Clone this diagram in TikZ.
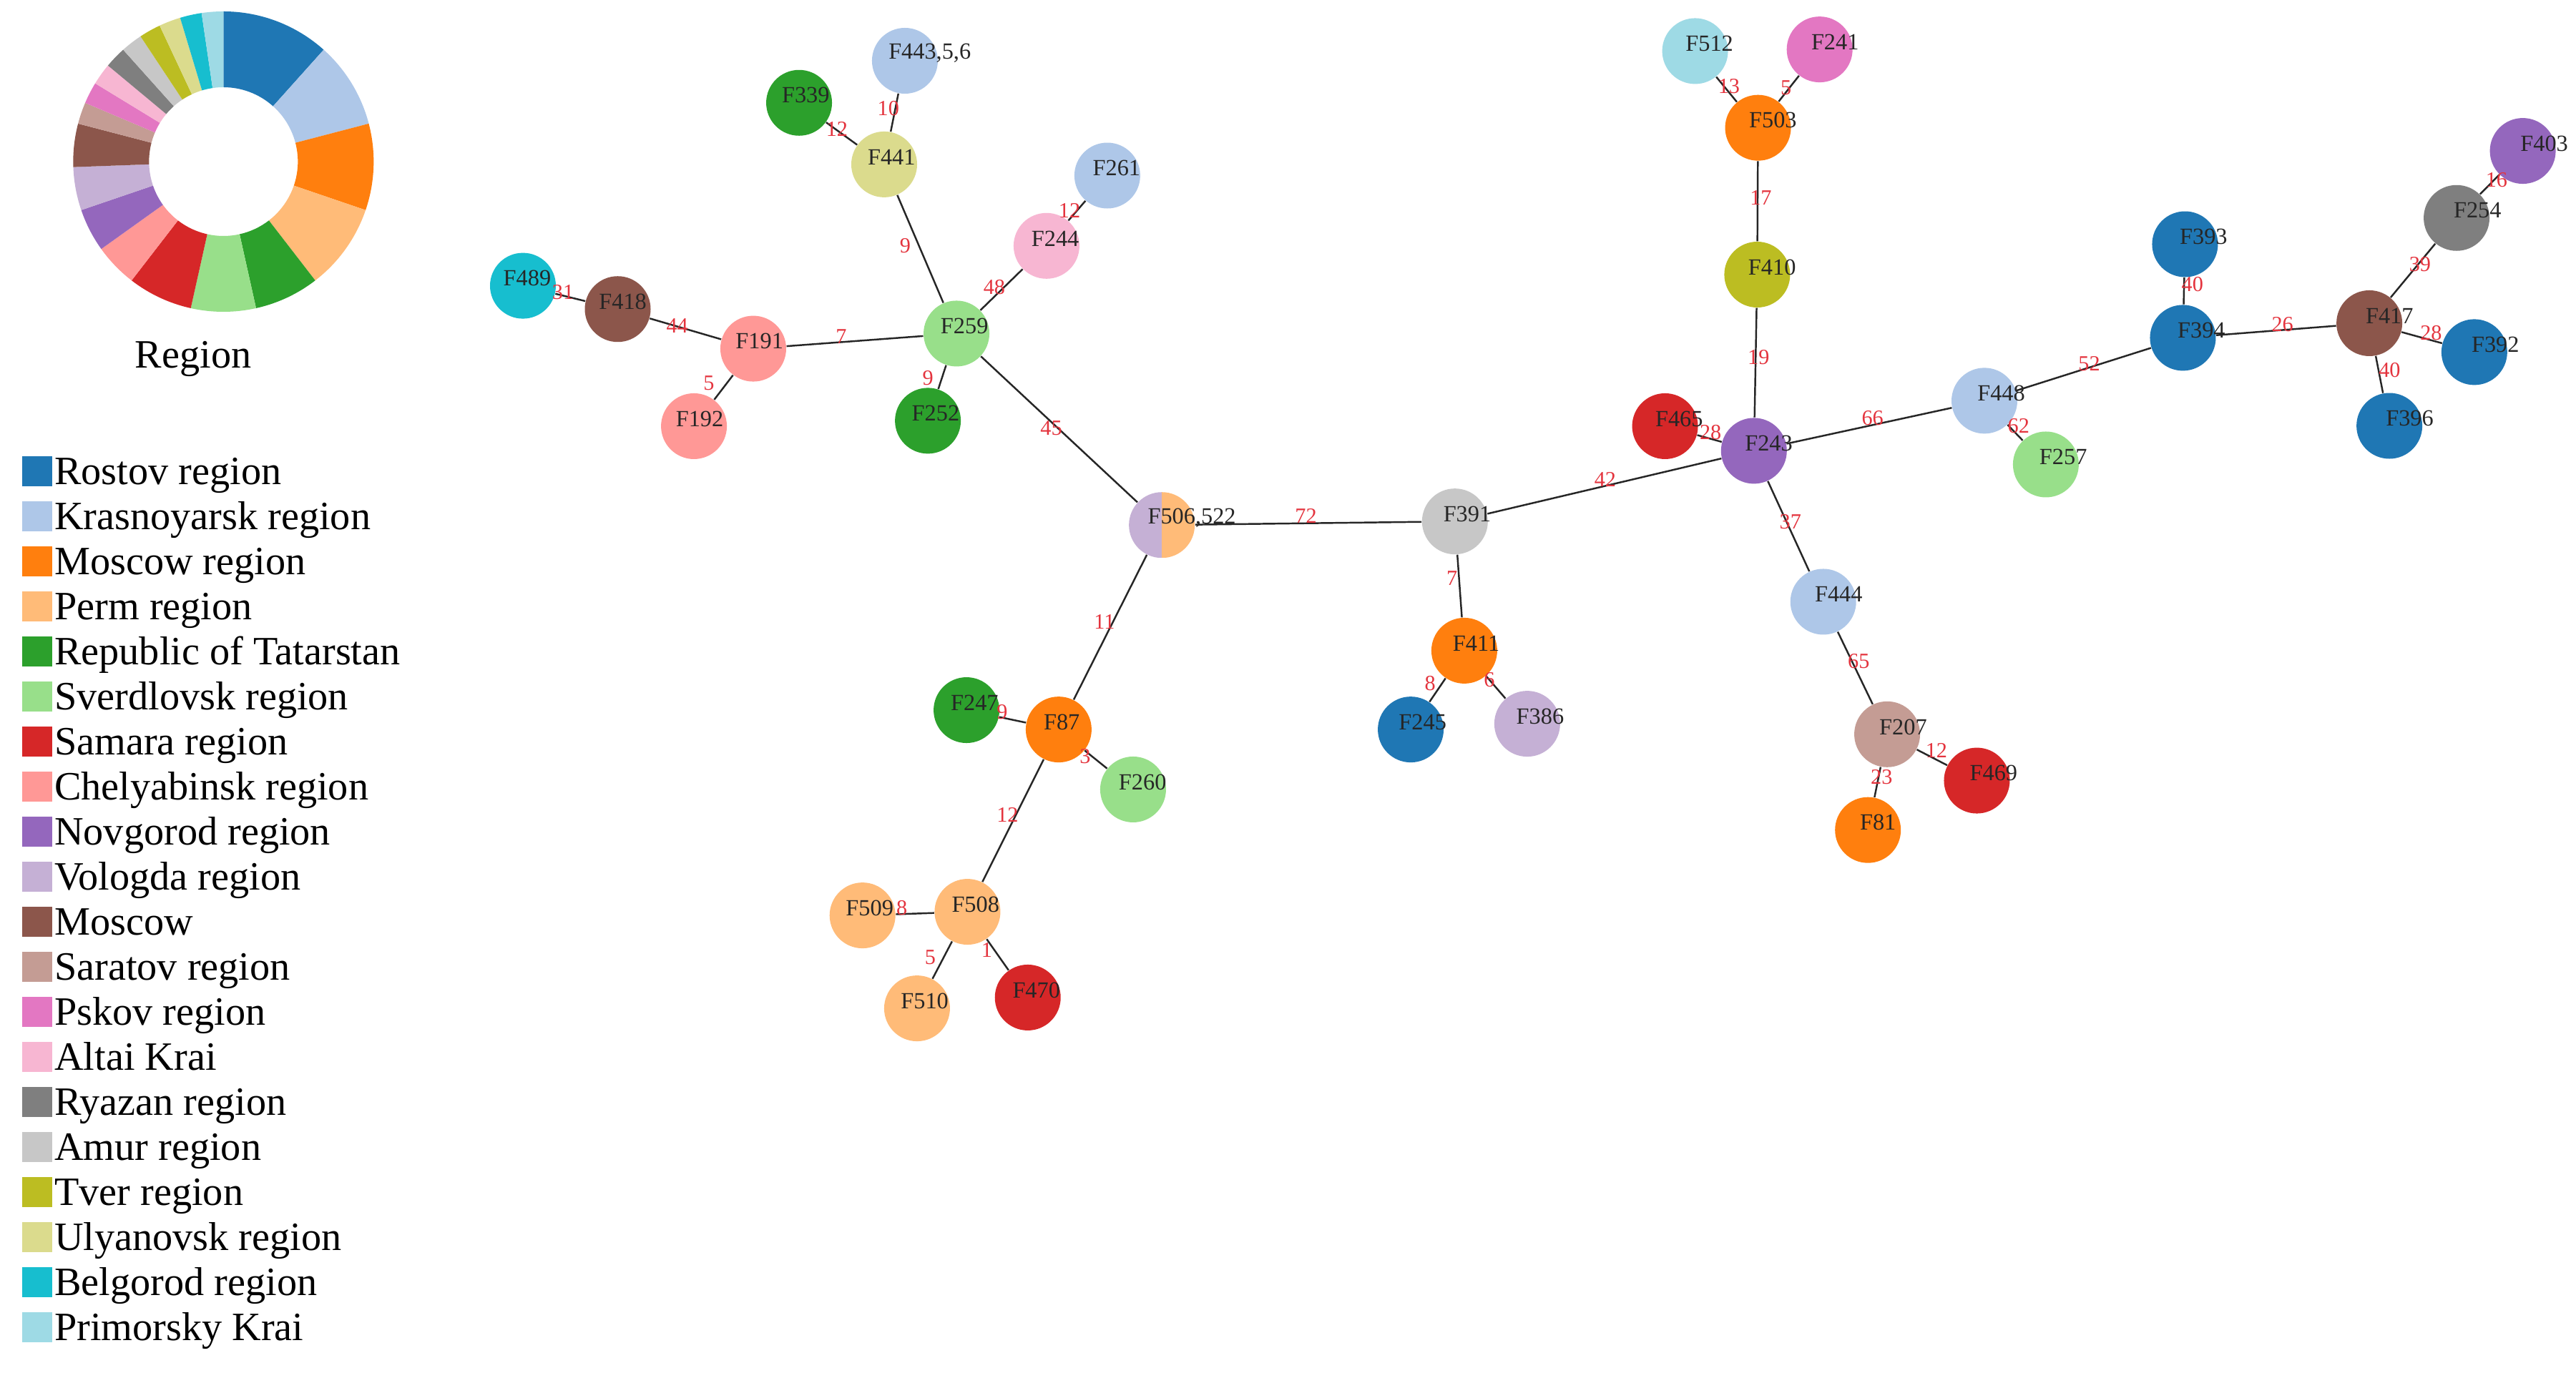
\documentclass[tikz,border=0pt]{standalone}
\usepackage{fontspec}
\setmainfont{Liberation Serif}
\definecolor{rostov}{HTML}{1F77B4}
\definecolor{kras}{HTML}{AEC7E8}
\definecolor{mosreg}{HTML}{FF7F0E}
\definecolor{perm}{HTML}{FFBB78}
\definecolor{tatar}{HTML}{2CA02C}
\definecolor{sverd}{HTML}{98DF8A}
\definecolor{samara}{HTML}{D62728}
\definecolor{chely}{HTML}{FF9896}
\definecolor{novg}{HTML}{9467BD}
\definecolor{volog}{HTML}{C5B0D5}
\definecolor{moscow}{HTML}{8C564B}
\definecolor{saratov}{HTML}{C49C94}
\definecolor{pskov}{HTML}{E377C2}
\definecolor{altai}{HTML}{F7B6D2}
\definecolor{ryazan}{HTML}{7F7F7F}
\definecolor{amur}{HTML}{C7C7C7}
\definecolor{tver}{HTML}{BCBD22}
\definecolor{ulyan}{HTML}{DBDB8D}
\definecolor{belg}{HTML}{17BECF}
\definecolor{prim}{HTML}{9EDAE5}
\definecolor{labred}{RGB}{228,52,62}
\pgfdeclarelayer{fg}
\pgfsetlayers{main,fg}
\tikzset{
  nd/.style={circle, inner sep=0pt, minimum size=0.92cm, draw=none},
  ntext/.style={anchor=west, inner sep=0pt, font=\fontsize{9.2}{10}\selectfont, text=black!85},
  edge/.style={draw=black!85, line width=0.7pt},
  elab/.style={inner sep=0pt, font=\fontsize{8.6}{9}\selectfont, text=labred},
  legsq/.style={inner sep=0pt, minimum width=0.42cm, minimum height=0.42cm, draw=none},
  legtext/.style={anchor=base west, inner sep=0pt, font=\fontsize{16}{19}\selectfont}
}
\newcommand\fnode[5]{%
  \node[nd, fill=#2] (#1) at (#3,#4) {};
  \begin{pgfonlayer}{fg}\node[ntext] (#1t) at ({#3-14.93+0.0086*#3},{#4-4.5}) {#5};\end{pgfonlayer}}
\newcommand\edg[5]{%
  \draw[edge] (#1) -- (#2);
  \begin{pgfonlayer}{fg}\node[elab] (l#1#2) at (#3,#4) {#5};\end{pgfonlayer}}
\begin{document}
\begin{tikzpicture}[x=0.022966cm, y=-0.022966cm]
\useasboundingbox (0,0) rectangle (1568,836);
\fill[white] (0,0) rectangle (1568,836);

% donut
\begin{scope}[shift={(136,98.4)}, x=1cm, y=1cm]
  \foreach \a/\b/\c in {0/5/rostov, 5/9/kras, 9/13/mosreg, 13/17/perm, 17/20/tatar, 20/23/sverd, 23/26/samara, 26/28/chely, 28/30/novg, 30/32/volog, 32/34/moscow, 34/35/saratov, 35/36/pskov, 36/37/altai, 37/38/ryazan, 38/39/amur, 39/40/tver, 40/41/ulyan, 41/42/belg, 42/43/prim}{
    \pgfmathsetmacro\sa{90-\a*360/43}
    \pgfmathsetmacro\ea{90-\b*360/43}
    \fill[\c] (\sa:2.1) arc[start angle=\sa, end angle=\ea, radius=2.1] -- (\ea:1.04) arc[start angle=\ea, end angle=\sa, radius=1.04] -- cycle;
  }
\end{scope}
\node[anchor=base, inner sep=0pt, font=\fontsize{16}{19}\selectfont] (regtitle) at (117.6,224) {Region};

% legend
\foreach \i/\c/\t in {0/rostov/Rostov region, 1/kras/Krasnoyarsk region, 2/mosreg/Moscow region, 3/perm/Perm region, 4/tatar/Republic of Tatarstan, 5/sverd/Sverdlovsk region, 6/samara/Samara region, 7/chely/Chelyabinsk region, 8/novg/Novgorod region, 9/volog/Vologda region, 10/moscow/Moscow, 11/saratov/Saratov region, 12/pskov/Pskov region, 13/altai/Altai Krai, 14/ryazan/Ryazan region, 15/amur/Amur region, 16/tver/Tver region, 17/ulyan/Ulyanovsk region, 18/belg/Belgorod region, 19/prim/Primorsky Krai}{
  \node[legsq, fill=\c] (leg\i) at (22.65,{286.9+27.43*\i}) {};
  \node[legtext] (legt\i) at (32.9,{286.9+27.43*\i+8.3}) {\t};
}

% nodes
\fnode{F443}{kras}{550.8}{37.0}{F443,5,6}
\fnode{F339}{tatar}{486.4}{62.6}{F339}
\fnode{F441}{ulyan}{538.2}{100.1}{F441}
\fnode{F261}{kras}{674}{106.9}{F261}
\fnode{F244}{altai}{637}{149.7}{F244}
\fnode{F489}{belg}{318.3}{174}{F489}
\fnode{F418}{moscow}{376}{188.2}{F418}
\fnode{F191}{chely}{458.5}{212.3}{F191}
\fnode{F259}{sverd}{582.2}{203.1}{F259}
\fnode{F192}{chely}{422.4}{259.5}{F192}
\fnode{F252}{tatar}{564.8}{256.2}{F252}
\node[nd, path picture={
    \fill[volog] (path picture bounding box.north west) rectangle (path picture bounding box.south);
    \fill[perm] (path picture bounding box.north) rectangle (path picture bounding box.south east);}] (F506) at (707.2,319.7) {};
\begin{pgfonlayer}{fg}\node[ntext] (F506t) at ({707.2-14.93+0.0086*707.2},{319.7-4.5}) {F506,522};\end{pgfonlayer}
\fnode{F391}{amur}{885.6}{317.5}{F391}
\fnode{F411}{mosreg}{891.3}{396.2}{F411}
\fnode{F245}{rostov}{858.7}{444.2}{F245}
\fnode{F386}{volog}{929.6}{440.7}{F386}
\fnode{F247}{tatar}{588.3}{432.4}{F247}
\fnode{F87}{mosreg}{644.4}{444.2}{F87}
\fnode{F260}{sverd}{689.7}{480.7}{F260}
\fnode{F508}{perm}{588.9}{555.2}{F508}
\fnode{F509}{perm}{525}{557.4}{F509}
\fnode{F510}{perm}{558.2}{614}{F510}
\fnode{F470}{samara}{625.6}{607.4}{F470}
\fnode{F512}{prim}{1031.8}{31.1}{F512}
\fnode{F241}{pskov}{1107.6}{30.1}{F241}
\fnode{F503}{mosreg}{1070.1}{77.8}{F503}
\fnode{F410}{tver}{1069.6}{167.2}{F410}
\fnode{F465}{samara}{1013.5}{259.5}{F465}
\fnode{F243}{novg}{1067.6}{274.5}{F243}
\fnode{F448}{kras}{1207.9}{244}{F448}
\fnode{F257}{sverd}{1245.3}{282.8}{F257}
\fnode{F393}{rostov}{1330}{148.7}{F393}
\fnode{F394}{rostov}{1328.7}{205.7}{F394}
\fnode{F403}{novg}{1535.6}{91.9}{F403}
\fnode{F254}{ryazan}{1495.3}{132.7}{F254}
\fnode{F417}{moscow}{1442.2}{196.8}{F417}
\fnode{F392}{rostov}{1506.1}{214.4}{F392}
\fnode{F396}{rostov}{1454.4}{259.3}{F396}
\fnode{F444}{kras}{1109.8}{366.4}{F444}
\fnode{F207}{saratov}{1148.7}{447.1}{F207}
\fnode{F469}{samara}{1203.3}{475.3}{F469}
\fnode{F81}{mosreg}{1137}{505.4}{F81}

% edges
\edg{F441}{F443}{540.7}{66.1}{10}
\edg{F441}{F339}{509.4}{78.7}{12}
\edg{F441}{F259}{551}{149.7}{9}
\edg{F244}{F261}{651}{128.3}{12}
\edg{F259}{F244}{605.2}{175}{48}
\edg{F418}{F489}{342.7}{177.9}{31}
\edg{F191}{F418}{412.2}{198.3}{44}
\edg{F191}{F259}{512}{205}{7}
\edg{F191}{F192}{431.5}{233.3}{5}
\edg{F259}{F252}{564.8}{230.3}{9}
\edg{F259}{F506}{639.9}{260.5}{45}
\edg{F506}{F391}{794.9}{314.1}{72}
\edg{F506}{F87}{672.3}{378.6}{11}
\edg{F87}{F247}{610}{433.6}{9}
\edg{F87}{F260}{660.5}{460.7}{3}
\edg{F87}{F508}{613.3}{496.3}{12}
\edg{F508}{F509}{548.9}{553}{8}
\edg{F508}{F510}{566.3}{583}{5}
\edg{F508}{F470}{600.6}{578.5}{1}
\edg{F391}{F411}{883.8}{351.9}{7}
\edg{F411}{F245}{870.5}{416.3}{8}
\edg{F411}{F386}{906.5}{414.1}{6}
\edg{F391}{F243}{977.1}{291.9}{42}
\edg{F243}{F410}{1070.4}{217.7}{19}
\edg{F410}{F503}{1071.8}{120.5}{17}
\edg{F503}{F512}{1052.4}{52.5}{13}
\edg{F503}{F241}{1087.1}{53.5}{5}
\edg{F243}{F465}{1041.2}{263.4}{28}
\edg{F243}{F448}{1139.8}{254.6}{66}
\edg{F448}{F257}{1228.7}{259.5}{62}
\edg{F448}{F394}{1271.7}{221.6}{52}
\edg{F394}{F393}{1334.5}{173.3}{40}
\edg{F394}{F417}{1389.3}{197.7}{26}
\edg{F417}{F254}{1473}{161}{39}
\edg{F254}{F403}{1519.6}{109.4}{16}
\edg{F417}{F392}{1479.8}{202.7}{28}
\edg{F417}{F396}{1454.5}{225.2}{40}
\edg{F243}{F444}{1089.8}{317.8}{37}
\edg{F444}{F207}{1131.4}{402.4}{65}
\edg{F207}{F469}{1178.7}{456.8}{12}
\edg{F207}{F81}{1145.3}{473.3}{23}
\end{tikzpicture}
\end{document}
